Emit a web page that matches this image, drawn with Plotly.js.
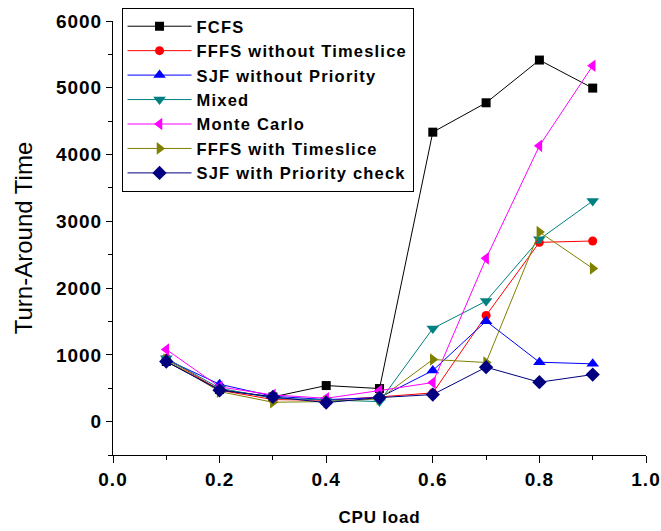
<!DOCTYPE html>
<html>
<head>
<meta charset="utf-8">
<script src="https://cdn.plot.ly/plotly-3.0.1.min.js"></script>
<style>
html,body{margin:0;padding:0;background:#fff;}
#chart{width:661px;height:531px;}
.legendtext{letter-spacing:1.2px;}
.xtick text,.ytick text{letter-spacing:1px;}
.xtitle{letter-spacing:0.8px;}
</style>
</head>
<body>
<div id="chart"></div>
<script>
const cpuLoad = [0.1, 0.2, 0.3, 0.4, 0.5, 0.6, 0.7, 0.8, 0.9];
const fcfs = [900, 480, 370, 540, 495, 4335, 4775, 5415, 4995];
const fffsNoSlice = [950, 470, 330, 320, 370, 430, 1590, 2685, 2705];
const sjfNoPriority = [930, 560, 380, 330, 360, 765, 1505, 890, 865];
const mixed = [950, 500, 350, 320, 300, 1395, 1805, 2730, 3305];
const monteCarlo = [1080, 520, 400, 350, 465, 585, 2445, 4130, 5330];
const fffsSlice = [930, 450, 290, 300, 340, 930, 885, 2840, 2295];
const sjfPriority = [900, 470, 370, 285, 360, 405, 815, 590, 705];

const seriesNames = ["FCFS", "FFFS without Timeslice", "SJF without Priority", "Mixed", "Monte Carlo", "FFFS with Timeslice", "SJF with Priority check"];
const seriesValues = [fcfs, fffsNoSlice, sjfNoPriority, mixed, monteCarlo, fffsSlice, sjfPriority];
const colors = ["#000000", "#ff0000", "#0000ff", "#008080", "#ff00ff", "#808000", "#000080"];
const symbols = ["square", "circle", "triangle-up", "triangle-down", "triangle-left", "triangle-right", "diamond"];
const sizes = [9, 9, 11, 11, 11, 11, 11];

const traces = seriesNames.map((n, i) => ({
  x: cpuLoad, y: seriesValues[i], name: n, type: 'scatter', mode: 'lines+markers',
  line: {color: colors[i], width: 1},
  marker: {color: colors[i], symbol: symbols[i], size: sizes[i]}
}));

const fam = 'Liberation Sans, Arial, sans-serif';
const tickFont = {family: fam, size: 19, color: '#000', weight: 'bold'};
const layout = {
  width: 661, height: 531,
  margin: {l: 113, r: 15, t: 21, b: 76, autoexpand: false},
  paper_bgcolor: '#fff', plot_bgcolor: '#fff',
  showlegend: true,
  legend: {x: 0.016, y: 1.03, xanchor: 'left', yanchor: 'top', bgcolor: '#fff',
    bordercolor: '#000', borderwidth: 1, itemwidth: 64,
    font: {family: fam, size: 16.5, color: '#000', weight: 'bold'}},
  xaxis: {range: [0, 1], dtick: 0.2, tickformat: '.1f', showgrid: false, zeroline: false,
    showline: true, linecolor: '#000', linewidth: 1, ticks: 'outside', ticklen: 7, tickcolor: '#000',
    minor: {dtick: 0.1, ticks: 'outside', ticklen: 4, tickcolor: '#000'},
    tickfont: tickFont,
    title: {text: 'CPU load', font: {family: fam, size: 17, color: '#000', weight: 'bold'}, standoff: 22}},
  yaxis: {range: [-500, 6000], dtick: 1000, showgrid: false, zeroline: false,
    showline: true, linecolor: '#000', linewidth: 1, ticks: 'outside', ticklen: 6, tickcolor: '#000',
    minor: {dtick: 500, ticks: 'outside', ticklen: 4, tickcolor: '#000'},
    tickfont: tickFont,
    title: {text: 'Turn-Around Time', font: {family: fam, size: 24, color: '#000'}, standoff: 16}}
};
Plotly.newPlot('chart', traces, layout, {displayModeBar: false, staticPlot: true});
</script>
</body>
</html>
